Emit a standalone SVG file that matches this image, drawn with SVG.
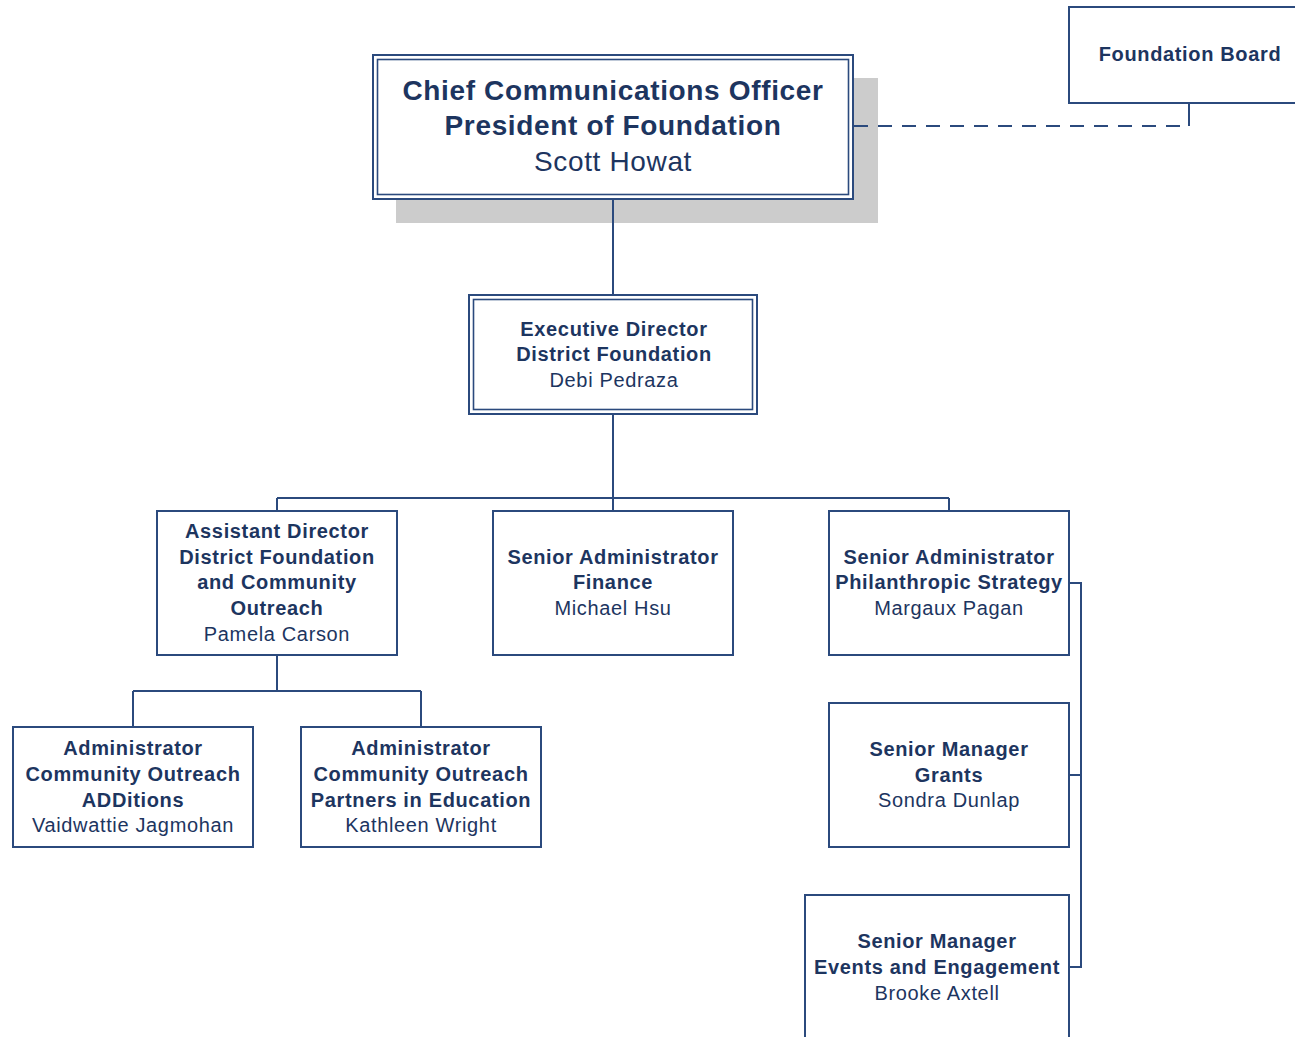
<svg xmlns="http://www.w3.org/2000/svg" width="1295" height="1037" viewBox="0 0 1295 1037">
<style>
.box{fill:#fff;stroke:#2b4a7d;stroke-width:2}
.dbl{fill:none;stroke:#2b4a7d;stroke-width:1.6}
.ln{fill:none;stroke:#2b4a7d;stroke-width:2}
text{font-family:"Liberation Sans",Arial,sans-serif;fill:#1d355f;text-anchor:middle;letter-spacing:0.65px}
.b{font-weight:bold;font-size:20px}
.r{font-size:20px}
.bb{font-weight:bold;font-size:28px}
.rb{font-size:28px}
</style>
<rect width="1295" height="1037" fill="#fff"/>
<g id="node-cco">
<rect x="396" y="78" width="482" height="145" fill="#cccccc"/>
<rect class="box" x="373" y="55" width="480" height="144"/>
<rect class="dbl" x="377.5" y="59.5" width="471" height="135"/>
<text class="bb" x="613" y="100">Chief Communications Officer</text>
<text class="bb" x="613" y="135">President of Foundation</text>
<text class="rb" x="613" y="171">Scott Howat</text>
</g>
<g id="node-board">
<rect class="box" x="1069" y="7" width="240" height="96"/>
<text class="b" x="1190" y="61">Foundation Board</text>
</g>
<g id="node-exec">
<rect class="box" x="469" y="295" width="288" height="119"/>
<rect class="dbl" x="473.5" y="299.5" width="279" height="110"/>
<text class="b" x="614" y="336">Executive Director</text>
<text class="b" x="614" y="361">District Foundation</text>
<text class="r" x="614" y="387">Debi Pedraza</text>
</g>
<g id="node-asst">
<rect class="box" x="157" y="511" width="240" height="144"/>
<text class="b" x="277" y="538">Assistant Director</text>
<text class="b" x="277" y="564">District Foundation</text>
<text class="b" x="277" y="589">and Community</text>
<text class="b" x="277" y="615">Outreach</text>
<text class="r" x="277" y="641">Pamela Carson</text>
</g>
<g id="node-finance">
<rect class="box" x="493" y="511" width="240" height="144"/>
<text class="b" x="613" y="564">Senior Administrator</text>
<text class="b" x="613" y="589">Finance</text>
<text class="r" x="613" y="615">Michael Hsu</text>
</g>
<g id="node-philanthropic">
<rect class="box" x="829" y="511" width="240" height="144"/>
<text class="b" x="949" y="564">Senior Administrator</text>
<text class="b" x="949" y="589">Philanthropic Strategy</text>
<text class="r" x="949" y="615">Margaux Pagan</text>
</g>
<g id="node-additions">
<rect class="box" x="13" y="727" width="240" height="120"/>
<text class="b" x="133" y="755">Administrator</text>
<text class="b" x="133" y="781">Community Outreach</text>
<text class="b" x="133" y="807">ADDitions</text>
<text class="r" x="133" y="832">Vaidwattie Jagmohan</text>
</g>
<g id="node-partners">
<rect class="box" x="301" y="727" width="240" height="120"/>
<text class="b" x="421" y="755">Administrator</text>
<text class="b" x="421" y="781">Community Outreach</text>
<text class="b" x="421" y="807">Partners in Education</text>
<text class="r" x="421" y="832">Kathleen Wright</text>
</g>
<g id="node-grants">
<rect class="box" x="829" y="703" width="240" height="144"/>
<text class="b" x="949" y="756">Senior Manager</text>
<text class="b" x="949" y="782">Grants</text>
<text class="r" x="949" y="807">Sondra Dunlap</text>
</g>
<g id="node-events">
<rect class="box" x="805" y="895" width="264" height="160"/>
<text class="b" x="937" y="948">Senior Manager</text>
<text class="b" x="937" y="974">Events and Engagement</text>
<text class="r" x="937" y="1000">Brooke Axtell</text>
</g>
<g id="connectors">
<path class="ln" d="M854,126 H1189" stroke-dasharray="14,10"/>
<path class="ln" d="M1189,103 V126"/>
<path class="ln" d="M613,200 V294"/>
<path class="ln" d="M613,415 V498 M277,498 H949 M277,498 V510 M613,498 V510 M949,498 V510"/>
<path class="ln" d="M277,656 V691 M133,691 H421 M133,691 V726 M421,691 V726"/>
<path class="ln" d="M1070,583 H1081 V967 H1070 M1070,775 H1081"/>
</g>
</svg>
